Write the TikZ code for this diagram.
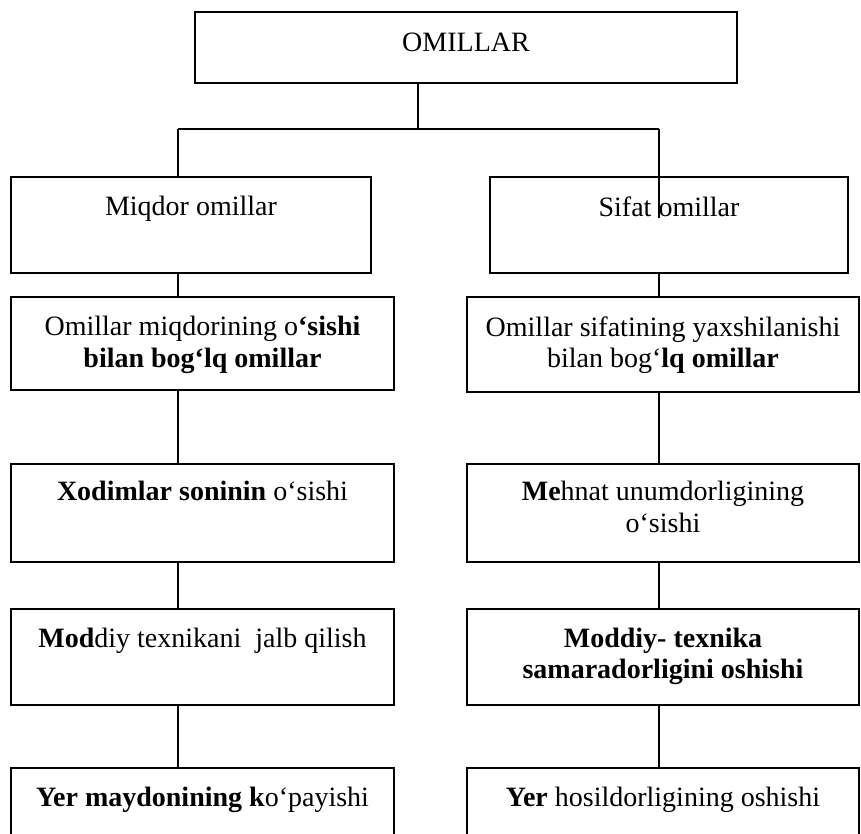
\documentclass[tikz,border=0pt]{standalone}
\usepackage{fontspec}
\setmainfont{Liberation Serif}
\usetikzlibrary{positioning}

\begin{document}
\begin{tikzpicture}[x=1pt,y=-1pt,line width=1.6pt,
    box/.style={draw,line width=1.6pt,inner sep=0pt},
    txt/.style={inner sep=0pt,align=center,font=\fontsize{28}{31.5}\selectfont}]
	\clip (0,0) rectangle (861,834);

	% top
	\node[box,minimum width=542pt,minimum height=71pt] (top) at (466,47.5) {};
	\node[txt,below=21pt of top.north] (topT) {OMILLAR};

	% left column
	\node[box,minimum width=360pt,minimum height=96pt] (miqdor) at (191,225) {};
	\node[box,minimum width=383pt,minimum height=93pt] (omq) at (202.5,343.5) {};
	\node[box,minimum width=383pt,minimum height=98pt] (xod) at (202.5,513) {};
	\node[box,minimum width=383pt,minimum height=96pt] (mod) at (202.5,657) {};
	\node[box,minimum width=383pt,minimum height=98pt] (yer) at (202.5,817) {};

	% right column
	\node[box,minimum width=358pt,minimum height=96pt] (sifat) at (669,225) {};
	\node[box,minimum width=392pt,minimum height=95pt] (ysh) at (663,344.5) {};
	\node[box,minimum width=392pt,minimum height=98pt] (meh) at (663,513) {};
	\node[box,minimum width=392pt,minimum height=96pt] (sam) at (663,657) {};
	\node[box,minimum width=392pt,minimum height=98pt] (hos) at (663,817) {};

	% texts
	\node[txt,below=19.5pt of miqdor.north] (miqdorT) {Miqdor omillar};
	\node[txt,below=19.5pt of omq.north] (omqT) {Omillar miqdorining o\textbf{‘sishi}\\ \textbf{bilan bog‘lq omillar}};
	\node[txt,below=17.5pt of xod.north] (xodT) {\textbf{Xodimlar soninin} o‘sishi};
	\node[txt,below=19pt of mod.north] (modT) {\textbf{Mod}diy texnikani\ \ jalb qilish};
	\node[txt,below=19pt of yer.north] (yerT) {\textbf{Yer maydonining k}o‘payishi};

	\node[txt,below=19.5pt of sifat.north] (sifatT) {Sifat omillar};
	\node[txt,below=19.5pt of ysh.north] (yshT) {Omillar sifatining yaxshilanishi\\ bilan bog‘\textbf{lq omillar}};
	\node[txt,below=17.5pt of meh.north] (mehT) {\textbf{Me}hnat unumdorligining\\ o‘sishi};
	\node[txt,below=19pt of sam.north] (samT) {\textbf{Moddiy- texnika}\\ \textbf{samaradorligini oshishi}};
	\node[txt,below=19pt of hos.north] (hosT) {\textbf{Yer} hosildorligining oshishi};

	% connectors
	\coordinate (fork) at (418,129);
	\coordinate (lcol) at (178,0);
	\coordinate (rcol) at (659,0);
	\coordinate (rend) at (659,218);

	\draw (top.south -| fork) -- (fork);
	\draw (fork -| lcol) -- (fork -| rcol);
	\draw (fork -| lcol) -- (miqdor.north -| lcol);
	\draw (fork -| rcol) -- (rend);
	\foreach \a/\b in {miqdor/omq,omq/xod,xod/mod,mod/yer}
		\draw (\a.south -| lcol) -- (\b.north -| lcol);
	\foreach \a/\b in {sifat/ysh,ysh/meh,meh/sam,sam/hos}
		\draw (\a.south -| rcol) -- (\b.north -| rcol);
\end{tikzpicture}
\end{document}
